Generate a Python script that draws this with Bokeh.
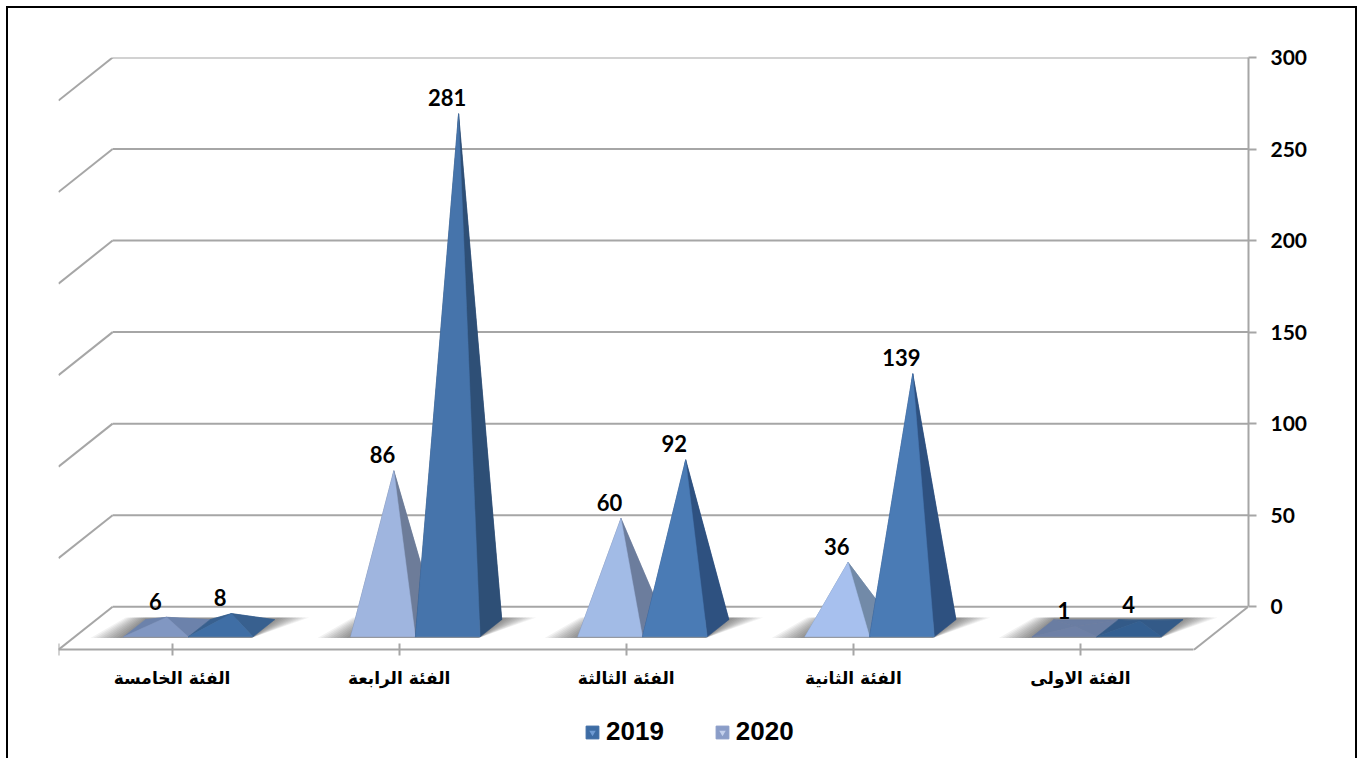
from bokeh.plotting import figure
from bokeh.models import Range1d, FixedTicker, LinearAxis, Legend, LegendItem
from bokeh.core.properties import value
from bokeh.embed import file_html
from bokeh.resources import INLINE
import numpy as np

categories = ["الفئة الخامسة", "الفئة الرابعة", "الفئة الثالثة", "الفئة الثانية", "الفئة الاولى"]
values_2019 = [8, 281, 92, 139, 4]
values_2020 = [6, 86, 60, 36, 1]
value_ticks = [0, 50, 100, 150, 200, 250, 300]

front_2019 = ["#3F6EA5", "#4674AB", "#4A7BB5", "#4A7BB5", "#335F91"]
side_2019 = ["#38608F", "#2E4F76", "#2E5180", "#2E5180", "#335A88"]
front_2020 = ["#8197C2", "#9FB5DF", "#A2BBE6", "#A7C0EE", "#6E80A6"]
side_2020 = ["#6C82AB", "#6D7C99", "#6C7D9D", "#728AA8", "#6A7DA2"]
legend_2019 = ["#3D6CA4", "#6F9BD3"]
legend_2020 = ["#8A9DC8", "#C3D0EC"]
GREY = "#A6A6A6"

# oblique projection of the 3D chart box: depth d runs 0 (front) .. 1 (back wall)
DEPTH_X, DEPTH_Y = 0.2384, 23.5
D_FRONT, D_MID, D_BACK = 0.30, 0.50, 0.70
BAR_W = 0.285
Y_BOTTOM = -84  # room below the floor for the category labels and the legend


def proj(i, v, d):
    i, v = np.broadcast_arrays(np.asarray(i, dtype=float), np.asarray(v, dtype=float))
    return i + d * DEPTH_X, v + (d - 1) * DEPTH_Y


p = figure(width=1347, height=750, output_backend="svg", toolbar_location=None,
           x_range=Range1d(-0.5, 4.74), y_range=Range1d(Y_BOTTOM, 300),
           min_border_left=50, min_border_right=111, min_border_top=49, min_border_bottom=0,
           margin=0, x_axis_location=None, y_axis_location=None,
           styles={"position": "absolute", "left": "6px", "top": "6px", "box-sizing": "content-box",
                   "border-left": "2px solid #000", "border-top": "2px solid #000",
                   "border-right": "2px solid #000"})
p.outline_line_color = None
p.grid.visible = False

# walls
levels = np.array(value_ticks, dtype=float)
p.segment(-0.5 + DEPTH_X + 0 * levels, levels, 4.5 + DEPTH_X + 0 * levels, levels, line_color=GREY, line_width=2)
p.segment(-0.5 + DEPTH_X + 0 * levels, levels, -0.5 + 0 * levels, levels - DEPTH_Y, line_color=GREY, line_width=2)
p.segment([4.5 + DEPTH_X], [0], [4.5], [-DEPTH_Y], line_color=GREY, line_width=2)

# axes
right = LinearAxis(ticker=FixedTicker(ticks=value_ticks), bounds=(0, 300))
right.axis_line_color = GREY
right.axis_line_width = 2
right.major_tick_line_color = GREY
right.major_tick_line_width = 2
right.major_tick_in = 0
right.major_tick_out = 8
right.minor_tick_line_color = None
right.major_label_standoff = 14
right.major_label_text_font = "Lato"
right.major_label_text_font_style = "bold"
right.major_label_text_font_size = "21px"
right.major_label_text_color = "#000000"
p.add_layout(right, "right")

bottom = LinearAxis(ticker=FixedTicker(ticks=[-0.5, 0, 1, 2, 3, 4]), bounds=(-0.5, 4.5), fixed_location=-DEPTH_Y)
bottom.major_label_overrides = {-0.5: "", **{k: c for k, c in enumerate(categories)}}
bottom.axis_line_color = GREY
bottom.axis_line_width = 2
bottom.major_tick_line_color = GREY
bottom.major_tick_line_width = 2
bottom.major_tick_in = 6
bottom.major_tick_out = 6
bottom.minor_tick_line_color = None
bottom.major_label_standoff = 12
bottom.major_label_text_font = "DejaVu Sans"
bottom.major_label_text_font_style = "bold"
bottom.major_label_text_font_size = "17px"
bottom.major_label_text_color = "#000000"
p.add_layout(bottom, "below")

# floor shadows: nested translucent shapes make a soft fall-off
LAYERS = 10
for s in range(LAYERS):
    ext = 0.14 * (LAYERS - s) / LAYERS
    xs, ys = [], []
    for i in range(len(categories)):
        corners = [(i - BAR_W - ext, D_FRONT - 0.025), (i + BAR_W, D_FRONT - 0.025),
                   (i + BAR_W + ext, D_BACK + 0.05), (i - BAR_W - ext * 0.7, D_BACK + 0.05)]
        pts = [proj(a, 0, b) for a, b in corners]
        xs.append([float(q[0]) for q in pts])
        ys.append([float(q[1]) for q in pts])
    p.patches(xs, ys, fill_color="#000000", fill_alpha=0.05, line_color=None)

# pyramids
for name, vals, lo, hi, front, side in [("2020", values_2020, -BAR_W, 0, front_2020, side_2020),
                                        ("2019", values_2019, 0, BAR_W, front_2019, side_2019)]:
    idx = np.arange(len(vals), dtype=float)
    v = np.array(vals, dtype=float)
    fl = proj(idx + lo, 0, D_FRONT)
    fr = proj(idx + hi, 0, D_FRONT)
    bl = proj(idx + lo, 0, D_BACK)
    br = proj(idx + hi, 0, D_BACK)
    ax, ay = proj(idx + (lo + hi) / 2, v, D_MID)

    def face(a, b):
        return ([[a[0][k], b[0][k], ax[k]] for k in range(len(vals))],
                [[a[1][k], b[1][k], ay[k]] for k in range(len(vals))])

    for a, b, colors in [(bl, br, side), (fl, bl, side), (fr, br, side), (fl, fr, front)]:
        xs, ys = face(a, b)
        p.patches(xs, ys, fill_color=colors, line_color=colors, line_width=0.5)

    tx, ty = proj(idx + (lo + hi) / 2 - 0.05, v, D_MID)
    p.text(tx, ty, text=[str(x) for x in vals], text_font=value("Lato"), text_font_style="bold",
           text_font_size="22px", text_color="#000000", text_align="center",
           text_baseline="middle", y_offset=-16)

# legend keys: a dark square with a lighter wedge, like a pyramid seen from above
keys = {}
for name, (base, light) in [("2019", legend_2019), ("2020", legend_2020)]:
    square = p.patches([[np.nan]], [[np.nan]], fill_color=base, line_color=base, line_width=1)
    wedge = p.scatter([np.nan], [np.nan], marker="inverted_triangle", fill_color=light, line_color=None)
    keys[name] = [square, wedge]

legend = Legend(items=[LegendItem(label="2019", renderers=keys["2019"]),
                       LegendItem(label="2020", renderers=keys["2020"])],
                orientation="horizontal", location=(526, 13), padding=0, margin=0, spacing=50,
                glyph_width=16, glyph_height=16, label_standoff=6,
                label_text_font="Liberation Sans", label_text_font_style="bold",
                label_text_font_size="26px", label_text_color="#000000",
                background_fill_alpha=0, border_line_color=None)
p.add_layout(legend, "center")

open("out.html", "w").write(file_html(p, INLINE))
